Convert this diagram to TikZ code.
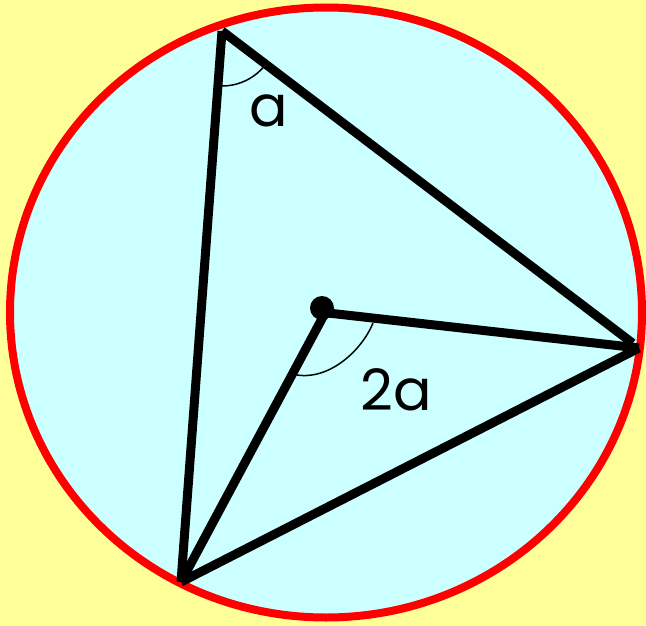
\documentclass[tikz,border=0pt]{standalone}
\usepackage{fontspec}
\setmainfont{Poppins}
\usetikzlibrary{calc}
\definecolor{bgyellow}{HTML}{FFFF99}
\definecolor{fillcyan}{HTML}{CCFFFF}
\begin{document}
\begin{tikzpicture}[x=1pt,y=-1pt,
  side/.style={line width=9pt,black},
  anglearc/.style={line width=1.5pt,black},
  lbl/.style={font=\fontsize{57}{57}\selectfont,anchor=base,inner sep=0pt}]
\fill[bgyellow] (0,0) rectangle (646,626);
\useasboundingbox (0,0) rectangle (646,626);
\draw[red,line width=8pt,fill=fillcyan] (326,312.5) ellipse [x radius=316,y radius=305];
\coordinate (A) at (222,31);
\coordinate (B) at (639,348);
\coordinate (C) at (181,582);
\coordinate (O) at (322,308);
\coordinate (Ob) at (328,313);
\coordinate (Oc) at (324,315);
\draw[side] (A) -- (C);
\draw[side] (A) -- ($(A)!0.985!(B)$);
\draw[side] (Ob) -- (B);
\draw[side] (B) -- (C);
\draw[side] (Oc) -- (C);
\fill[black] (O) circle (12);
\draw[anglearc] ($(A)+(94.4:55)$) arc[start angle=94.4,end angle=39.5,radius=55];
\coordinate (p1) at (373,323);
\coordinate (p2) at (297,375);
\draw[anglearc] (p1) .. controls (362,350) and (330,380) .. (p2);
\node[lbl] (la) at (269,127) {a};
\node[lbl] (l2a) at (396,410) {2a};
\end{tikzpicture}
\end{document}
